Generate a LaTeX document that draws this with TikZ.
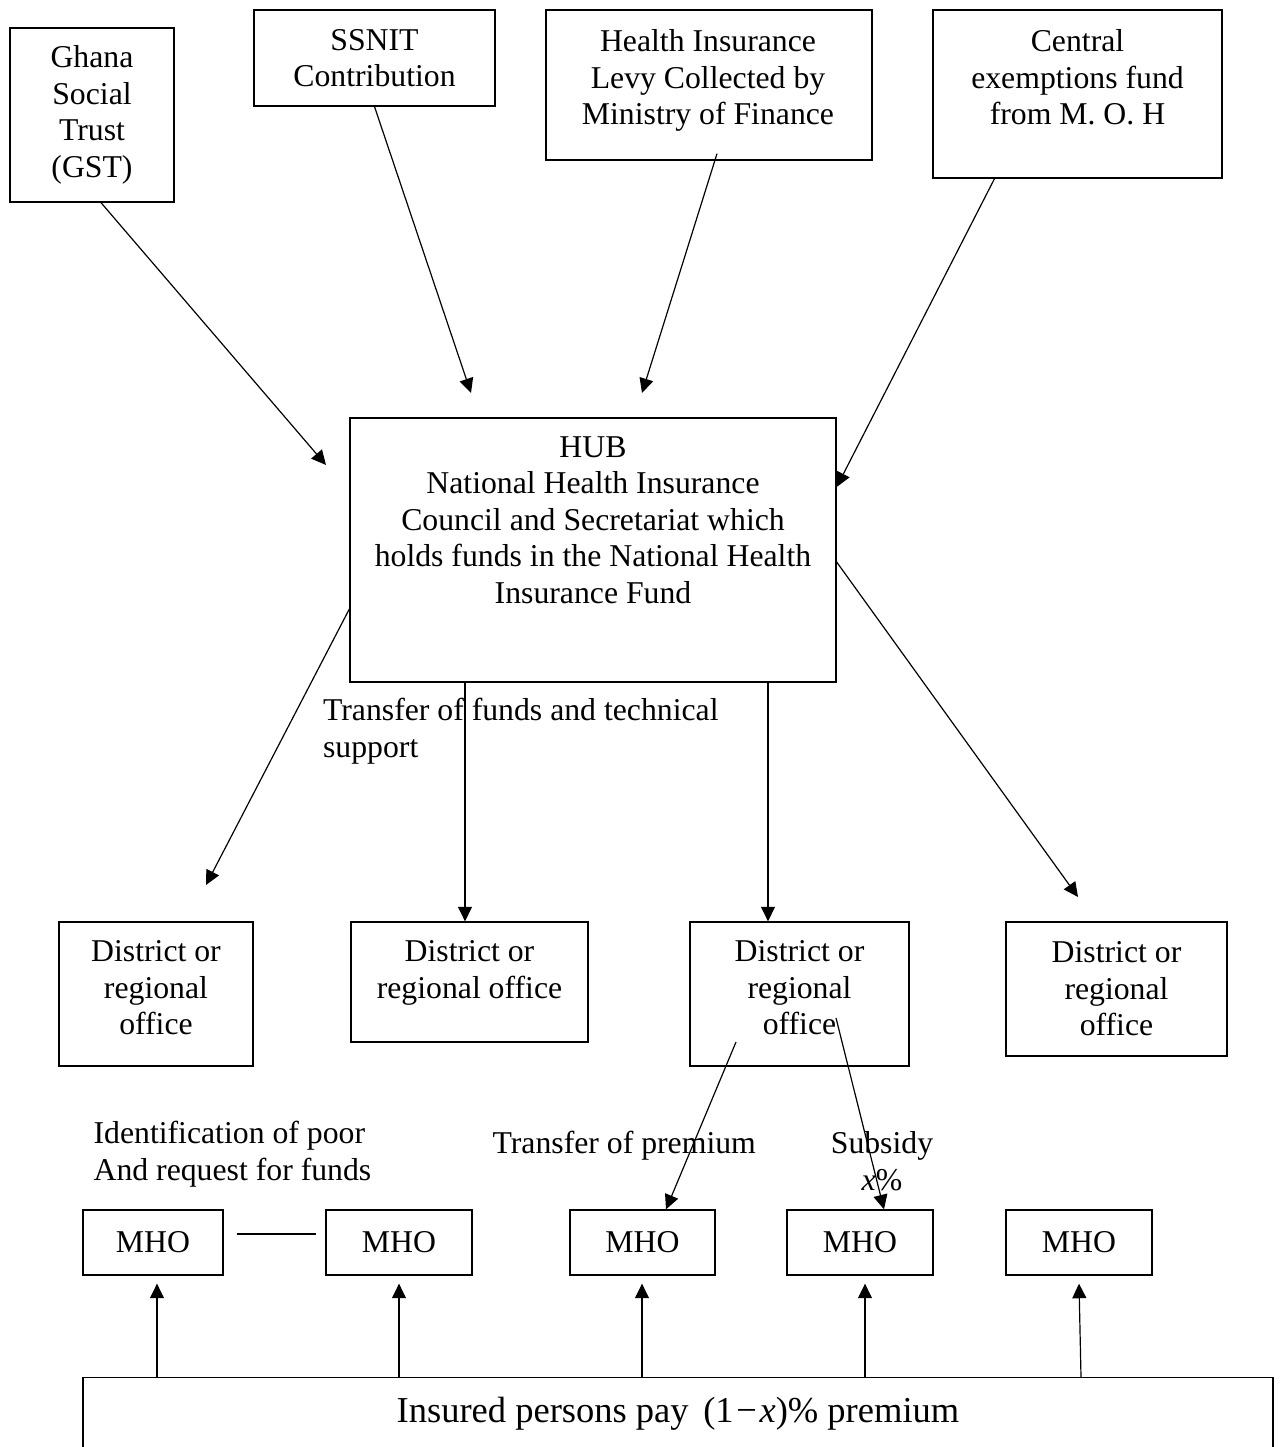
\documentclass[tikz,border=0pt]{standalone}
\usepackage{fontspec}
\setmainfont{Liberation Serif}
\usepackage{tikz}
\usetikzlibrary{arrows.meta,calc,positioning}

\newcommand{\pxu}{0.378pt}

\tikzset{
  box/.style={draw, line width=0.5pt, inner sep=0pt, align=center,
              font=\fontsize{12}{13.8}\selectfont},
  txt/.style={inner sep=0pt, align=center, font=\fontsize{12}{13.8}\selectfont},
  note/.style={inner sep=0pt, align=left, font=\fontsize{12}{13.8}\selectfont}
}

\begin{document}
\begin{tikzpicture}[x=0.378pt, y=-0.378pt, line width=0.45pt, >={Triangle[length=5.5pt,width=5.3pt]}]
           \useasboundingbox (0,0) rectangle (1282,1447);
           \clip (0,0) rectangle (1282,1447);

           % where the money comes from
           \node[box, minimum width=164*\pxu, minimum height=174*\pxu] (gst) at (92,115) {Ghana\\Social\\Trust\\(GST)};
           \node[box, minimum width=241*\pxu, minimum height=96*\pxu] (ssnit) at (374.5,58) {SSNIT\\Contribution};
           \node[box, minimum width=326*\pxu, minimum height=150*\pxu] (levy) at (709,85) {};
           \node[txt, anchor=north] (levy_t) at (708,29) {Health Insurance\\Levy Collected by\\Ministry of Finance};
           \node[box, minimum width=289*\pxu, minimum height=168*\pxu] (cef) at (1077.5,94) {};
           \node[txt, anchor=north] (cef_t) at (1077.5,29) {Central\\exemptions fund\\from M. O. H};

           % the hub
           \node[box, minimum width=486*\pxu, minimum height=264*\pxu] (hub) at (593,550) {};
           \node[txt, anchor=north] (hub_t) at (593,436) {HUB\\National Health Insurance\\Council and Secretariat which\\holds funds in the National Health\\Insurance Fund};

           % offices
           \node[box, minimum width=194*\pxu, minimum height=144*\pxu] (d_1) at (156,994) {};
           \node[txt, anchor=north] (d_1t) at (156,940) {District or\\regional\\office};
           \node[box, minimum width=237*\pxu, minimum height=120*\pxu] (d_2) at (469.5,982) {};
           \node[txt, anchor=north] (d_2t) at (469.5,940) {District or\\regional office};
           \node[box, minimum width=219*\pxu, minimum height=144*\pxu] (d_3) at (799.5,994) {};
           \node[txt, anchor=north] (d_3t) at (799.5,940) {District or\\regional\\office};
           \node[box, minimum width=221*\pxu, minimum height=134*\pxu] (d_4) at (1116.5,989) {District or\\regional\\office};

           % MHOs
           \node[box, minimum width=140*\pxu, minimum height=65*\pxu] (m_1) at (153,1242.5) {MHO};
           \node[box, minimum width=146*\pxu, minimum height=65*\pxu] (m_2) at (399,1242.5) {MHO};
           \node[box, minimum width=145*\pxu, minimum height=65*\pxu] (m_3) at (642.5,1242.5) {MHO};
           \node[box, minimum width=146*\pxu, minimum height=65*\pxu] (m_4) at (860,1242.5) {MHO};
           \node[box, minimum width=146*\pxu, minimum height=65*\pxu] (m_5) at (1079,1242.5) {MHO};

           \node[box, minimum width=1190*\pxu, minimum height=100*\pxu, anchor=north] (insured) at (678,1377) {};
           \node[txt, font=\fontsize{13.8}{16}\selectfont] (insured_t) at (678,1414) {Insured persons pay\hspace{0.4em}(1\hspace{1pt}−\hspace{1pt}\textit{x})\% premium};

           % labels
           \node[note, anchor=north west] (funds_l) at (322.5,698) {Transfer of funds and technical\\support};
           \node[note, anchor=north west] (poor_l) at (93,1121) {Identification of poor\\And request for funds};
           \node[note, anchor=base west] (prem_l) at (492,1153) {Transfer of premium};
           \node[txt, anchor=north] (sub_l) at (882,1131) {Subsidy\\\textit{x}\%};

           \coordinate (hub_in1) at (326,465);
           \coordinate (hub_in2) at (471,393);
           \coordinate (hub_in3) at (642,393);
           \coordinate (d_1in) at (206,885);
           \coordinate (d_4in) at (1078,897);
           \coordinate (up_1) at ($(m_1.south)+(4,8)$);
           \coordinate (up_2) at ($(m_2.south)+(0,8)$);
           \coordinate (up_3) at ($(m_3.south)+(-0.5,8)$);
           \coordinate (up_4) at ($(m_4.south)+(5,8)$);
           \coordinate (up_5) at ($(m_5.south)+(0,8)$);

            \path[->]
            ($(gst.south)+(9,0)$) edge (hub_in1)
            (ssnit.south) edge (hub_in2)
            ($(levy.south)+(8,-7)$) edge (hub_in3)
            ($(cef.south)+(-83,0)$) edge ($(hub.east)+(0,-63)$);

            \path[->]
            ($(hub.west)+(0,59)$) edge (d_1in)
            ($(hub.south)+(-128,0)$) edge ($(d_2.north)+(-4.5,0)$)
            ($(hub.south)+(175,0)$) edge ($(d_3.north)+(-31.5,0)$)
            ($(hub.east)+(0,12)$) edge (d_4in);

            \path[->]
            ($(d_3)+(-63.5,48)$) edge ($(m_3.north)+(23.5,0)$)
            ($(d_3)+(36.5,24)$) edge ($(m_4.north)+(24,0)$);

            \draw ($(m_1.east)+(13,-8.5)$) -- ($(m_2.west)+(-9,-8.5)$);

            \path[->]
            (up_1 |- insured.north) edge (up_1)
            (up_2 |- insured.north) edge (up_2)
            (up_3 |- insured.north) edge (up_3)
            (up_4 |- insured.north) edge (up_4)
            ($(up_5 |- insured.north)+(2,0)$) edge (up_5);
        \end{tikzpicture}
\end{document}
